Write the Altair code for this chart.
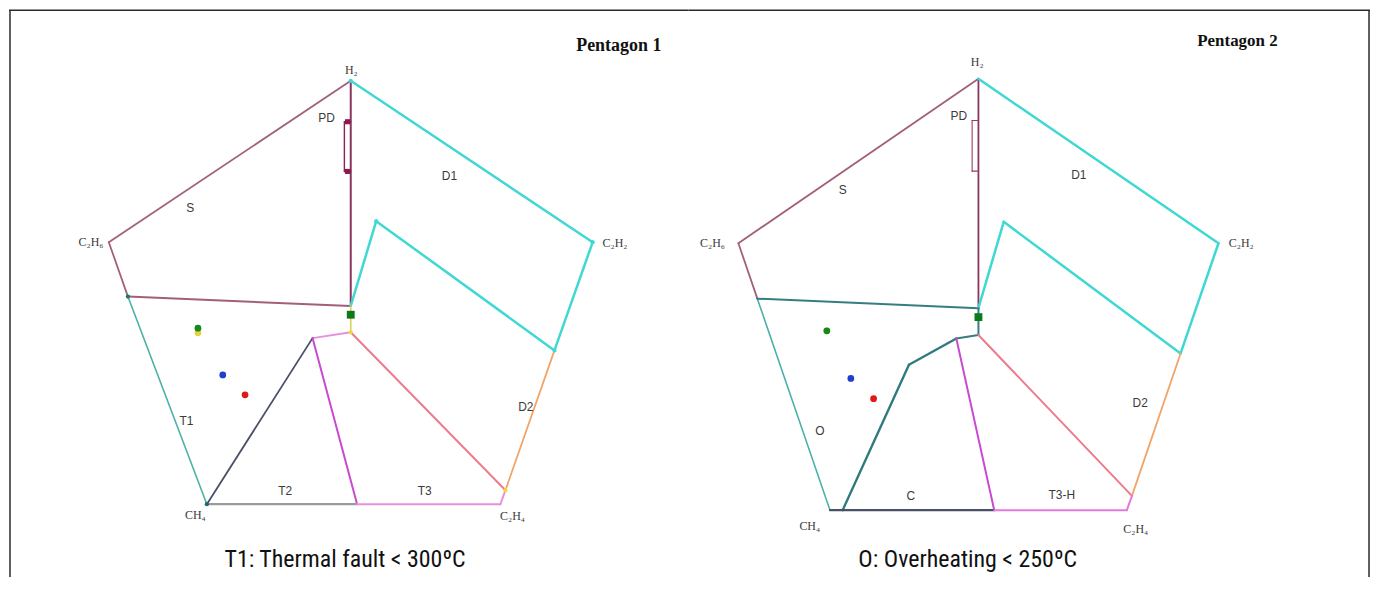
import altair as alt
import pandas as pd

# ------------------------------------------------------------------
# Duval pentagon coordinates
# ------------------------------------------------------------------
vertex_names = ["H₂", "C₂H₂", "C₂H₄", "CH₄", "C₂H₆"]
zone_names_1 = ["PD", "S", "D1", "T1", "T2", "T3", "D2"]
zone_names_2 = ["PD", "S", "D1", "O", "C", "T3-H", "D2"]

# Pentagon 1 zone boundaries
p1_edge_s = [(0, 40), (-38, 12.4), (-35, 3.1)]
p1_edge_t1 = [(-35, 3.1), (-22.6, -32.4)]
p1_s_t1 = [(-35, 3.1), (0, 1.5)]
p1_axis = [(0, 40), (0, 1.5)]
p1_pd = [(0, 33), (-1, 33), (-1, 24.5), (0, 24.5)]
p1_d1_outer = [(0, 40), (38, 12.4), (32, -6.1)]
p1_d1_inner = [(0, 1.5), (4, 16), (32, -6.1)]
p1_center = [(0, 1.5), (0, -3)]
p1_d2_outer = [(32, -6.1), (24.3, -30)]
p1_d2_t3 = [(0, -3), (24.3, -30)]
p1_t1_t3 = [(0, -3), (-6, -4)]
p1_t1_t2 = [(-6, -4), (-22.6, -32.4)]
p1_t2_t3 = [(-6, -4), (1, -32.4)]
p1_base_t2 = [(-22.6, -32.4), (1, -32.4)]
p1_base_t3 = [(1, -32.4), (23.5, -32.4), (24.3, -30)]

# Pentagon 2 zone boundaries
p2_edge_s = [(0, 40), (-38, 12.4), (-35, 3.1)]
p2_edge_o = [(-35, 3.1), (-23.5, -32.4)]
p2_s_o = [(-35, 3.1), (0, 1.5)]
p2_axis = [(0, 40), (0, 1.5)]
p2_pd = [(0, 33), (-1, 33), (-1, 24.5), (0, 24.5)]
p2_d1_outer = [(0, 40), (38, 12.4), (32, -6.1)]
p2_d1_inner = [(0, 1.5), (4, 16), (32, -6.1)]
p2_center = [(0, 1.5), (0, -3), (-3.5, -3.6)]
p2_d2_outer = [(32, -6.1), (24.3, -30)]
p2_d2_t3h = [(0, -3), (24.3, -30)]
p2_o_c = [(-3.5, -3.6), (-11, -8), (-21.5, -32.4)]
p2_c_t3h = [(-3.5, -3.6), (2.5, -32.4)]
p2_base_c = [(-23.5, -32.4), (2.5, -32.4)]
p2_base_t3h = [(2.5, -32.4), (23.5, -32.4), (24.3, -30)]

# vertex label positions
p1_vertex_x = [0.1, 41.5, 25.4, -24.4, -40.8]
p1_vertex_y = [41.8, 12.2, -34.4, -34.2, 12.4]
p2_vertex_x = [-0.2, 41.6, 24.9, -26.7, -42.1]
p2_vertex_y = [42.8, 12.4, -35.6, -35.1, 12.4]

# zone label positions
p1_zone_x = [-3.8, -25.2, 15.5, -25.8, -10.3, 11.6, 27.5]
p1_zone_y = [33.7, 18.2, 23.8, -18.1, -30.2, -30.2, -15.7]
p2_zone_x = [-3.1, -21.5, 15.9, -25.1, -10.7, 13.2, 25.6]
p2_zone_y = [33.8, 21.3, 23.8, -19.2, -30.1, -29.9, -14.5]

# DGA samples
sample_names = ["Sample 1", "Sample 2", "Sample 3", "Sample 4"]
p1_sample_x = [-24.0, -24.0, -20.1, -16.6]
p1_sample_y = [-3.1, -2.3, -10.3, -13.7]
p2_sample_x = [-24.0, -24.0, -20.2, -16.6]
p2_sample_y = [-2.3, -2.3, -10.3, -13.7]
sample_colors = ["#e6d23a", "#138a1c", "#1f3fd0", "#e01818"]

# centre marker
centre_x = [0]
centre_y = [0]

# small vertex markers (pentagon 1)
p1_marker_x = [0, 38, 4, 32, 0, 24.3, -35, -22.6]
p1_marker_y = [40, 12.4, 16, -6.1, -3, -30, 3.1, -32.4]
p1_marker_c = ["#3fd8d2", "#3fd8d2", "#3fd8d2", "#3fd8d2", "#ecd83a", "#ecd83a", "#1f7a5a", "#1f6a6a"]
# PD end markers (pentagon 1)
p1_pd_mark_x = [-0.5, -0.5]
p1_pd_mark_y = [33, 24.5]

titles = ["Pentagon 1", "Pentagon 2"]
captions = ["T1: Thermal fault < 300ºC", "O: Overheating < 250ºC"]
title_pos = [(42.1, 46.0), (41.0, 46.4)]
title_size = [18, 17]
caption_pos = [(-0.9, -41.9), (-1.7, -40.8)]

# ------------------------------------------------------------------
# styles
# ------------------------------------------------------------------
MAROON = "#a2607b"
AXIS = "#8a3560"
CYAN = "#3fd8d2"
TEAL = "#4ab2a8"
DTEAL = "#367d80"
ORANGE = "#f2a466"
SALMON = "#ec7b8c"
PINK = "#e690dc"
MAGENTA = "#c94ad0"
NAVY = "#4a5068"
GRAY = "#9a9a9a"

p1_lines = [
    (p1_edge_s, MAROON, 1.8), (p1_edge_t1, TEAL, 1.6), (p1_s_t1, "#a45f78", 2.0),
    (p1_axis, AXIS, 2.0), (p1_pd, "#8c2058", 1.4), (p1_d1_outer, CYAN, 2.5),
    (p1_d1_inner, CYAN, 2.5), (p1_center, "#d9cf5a", 1.6), (p1_d2_outer, ORANGE, 1.8),
    (p1_d2_t3, SALMON, 2.0), (p1_t1_t3, PINK, 2.0), (p1_t1_t2, NAVY, 1.8),
    (p1_t2_t3, MAGENTA, 2.0), (p1_base_t2, GRAY, 2.2), (p1_base_t3, PINK, 2.0),
]
p2_lines = [
    (p2_edge_s, MAROON, 1.8), (p2_edge_o, TEAL, 1.6), (p2_s_o, DTEAL, 2.0),
    (p2_axis, AXIS, 1.8), (p2_pd, "#9a3a62", 1.1), (p2_d1_outer, CYAN, 2.5),
    (p2_d1_inner, CYAN, 2.5), (p2_center, DTEAL, 2.0), (p2_d2_outer, ORANGE, 1.8),
    (p2_d2_t3h, SALMON, 2.0), (p2_o_c, "#2f7a7e", 2.4), (p2_c_t3h, MAGENTA, 2.0),
    (p2_base_c, NAVY, 2.2), (p2_base_t3h, "#e27ad8", 2.0),
]

# layout calibration: panel left (px), panel width, x-centre px, px per unit x,
# px of y=40, px per unit y
PANEL_H = 570
TOP = 8
calib = [
    dict(left=8, width=682, cx=351, sx=6.39, y40=80, sy=5.87),
    dict(left=690, width=684, cx=981, sx=6.34, y40=78, sy=5.98),
]


def segments(lines):
    rows = []
    for k, (pts, col, w) in enumerate(lines):
        for (a, b) in zip(pts[:-1], pts[1:]):
            rows.append(dict(x=a[0], y=a[1], x2=b[0], y2=b[1], c=col, w=w, k=k))
    return pd.DataFrame(rows)


def panel(i, lines, vx, vy, zx, zy, znames, sx_, sy_, markers=None, pdmarks=None):
    c = calib[i]
    xd = [(c["left"] - c["cx"]) / c["sx"], (c["left"] + c["width"] - c["cx"]) / c["sx"]]
    yd = [40 - (TOP + PANEL_H - c["y40"]) / c["sy"], 40 + (c["y40"] - TOP) / c["sy"]]
    X = lambda f: alt.X(f, type="quantitative", scale=alt.Scale(domain=xd, nice=False, zero=False), axis=None)
    Y = lambda f: alt.Y(f, type="quantitative", scale=alt.Scale(domain=yd, nice=False, zero=False), axis=None)

    seg = alt.Chart(segments(lines)).mark_rule(strokeCap="round").encode(
        x=X("x"), y=Y("y"), x2="x2", y2="y2",
        color=alt.Color("c:N", scale=None), strokeWidth=alt.StrokeWidth("w:Q", scale=None),
    )
    layers = [seg]
    if pdmarks is not None:
        pdf = pd.DataFrame(dict(x=pdmarks[0], y=pdmarks[1]))
        layers.append(alt.Chart(pdf).mark_square(size=26, color="#8c1a52", opacity=1).encode(
            x=X("x"), y=Y("y")))
    if markers is not None:
        mdf = pd.DataFrame(dict(x=markers[0], y=markers[1], c=markers[2]))
        layers.append(alt.Chart(mdf).mark_circle(size=18, opacity=1).encode(
            x=X("x"), y=Y("y"), color=alt.Color("c:N", scale=None)))
    cdf = pd.DataFrame(dict(x=centre_x, y=centre_y))
    layers.append(alt.Chart(cdf).mark_square(size=62, color="#0c7a18", opacity=1).encode(x=X("x"), y=Y("y")))
    sdf = pd.DataFrame(dict(x=sx_, y=sy_, c=sample_colors, n=sample_names))
    layers.append(alt.Chart(sdf).mark_circle(size=46, opacity=1).encode(
        x=X("x"), y=Y("y"), color=alt.Color("c:N", scale=None)))
    vdf = pd.DataFrame(dict(x=vx, y=vy, t=vertex_names))
    layers.append(alt.Chart(vdf).mark_text(font="Liberation Serif", fontSize=12, color="#3a3a3a",
                                           align="center", baseline="middle").encode(
        x=X("x"), y=Y("y"), text="t:N"))
    zdf = pd.DataFrame(dict(x=zx, y=zy, t=znames))
    layers.append(alt.Chart(zdf).mark_text(font="Liberation Sans", fontSize=12, color="#3a3a3a",
                                           align="center", baseline="middle").encode(
        x=X("x"), y=Y("y"), text="t:N"))
    tdf = pd.DataFrame(dict(x=[title_pos[i][0]], y=[title_pos[i][1]], t=[titles[i]]))
    layers.append(alt.Chart(tdf).mark_text(font="Liberation Serif", fontSize=title_size[i], fontWeight="bold",
                                           color="#111111", align="center", baseline="middle").encode(
        x=X("x"), y=Y("y"), text="t:N"))
    capdf = pd.DataFrame(dict(x=[caption_pos[i][0]], y=[caption_pos[i][1]], t=[captions[i]]))
    layers.append(alt.Chart(capdf).mark_text(font="Roboto Condensed, Roboto", fontSize=24,
                                             color="#111111", align="center", baseline="middle").encode(
        x=X("x"), y=Y("y"), text="t:N"))
    # frame
    w = c["width"]
    layers.append(alt.Chart(cdf).mark_rule(color="#2a2a2a", strokeWidth=1.5).encode(
        x=alt.value(0), x2=alt.value(w), y=alt.value(1.2)))
    fx = 1.0 if i == 0 else w - 1.0
    layers.append(alt.Chart(cdf).mark_rule(color="#2a2a2a", strokeWidth=1.5).encode(
        x=alt.value(fx), y=alt.value(1.2), y2=alt.value(PANEL_H)))
    return alt.layer(*layers).properties(width=w, height=PANEL_H)


left = panel(0, p1_lines, p1_vertex_x, p1_vertex_y, p1_zone_x, p1_zone_y, zone_names_1,
             p1_sample_x, p1_sample_y, markers=(p1_marker_x, p1_marker_y, p1_marker_c),
             pdmarks=(p1_pd_mark_x, p1_pd_mark_y))
right = panel(1, p2_lines, p2_vertex_x, p2_vertex_y, p2_zone_x, p2_zone_y, zone_names_2,
              p2_sample_x, p2_sample_y)

chart = alt.hconcat(left, right, spacing=0, bounds="flush").resolve_scale(
    x="independent", y="independent", color="independent", strokeWidth="independent"
).properties(padding=0).configure_view(stroke=None)

chart.save("out.html", embed_options={"renderer": "svg", "actions": False})
